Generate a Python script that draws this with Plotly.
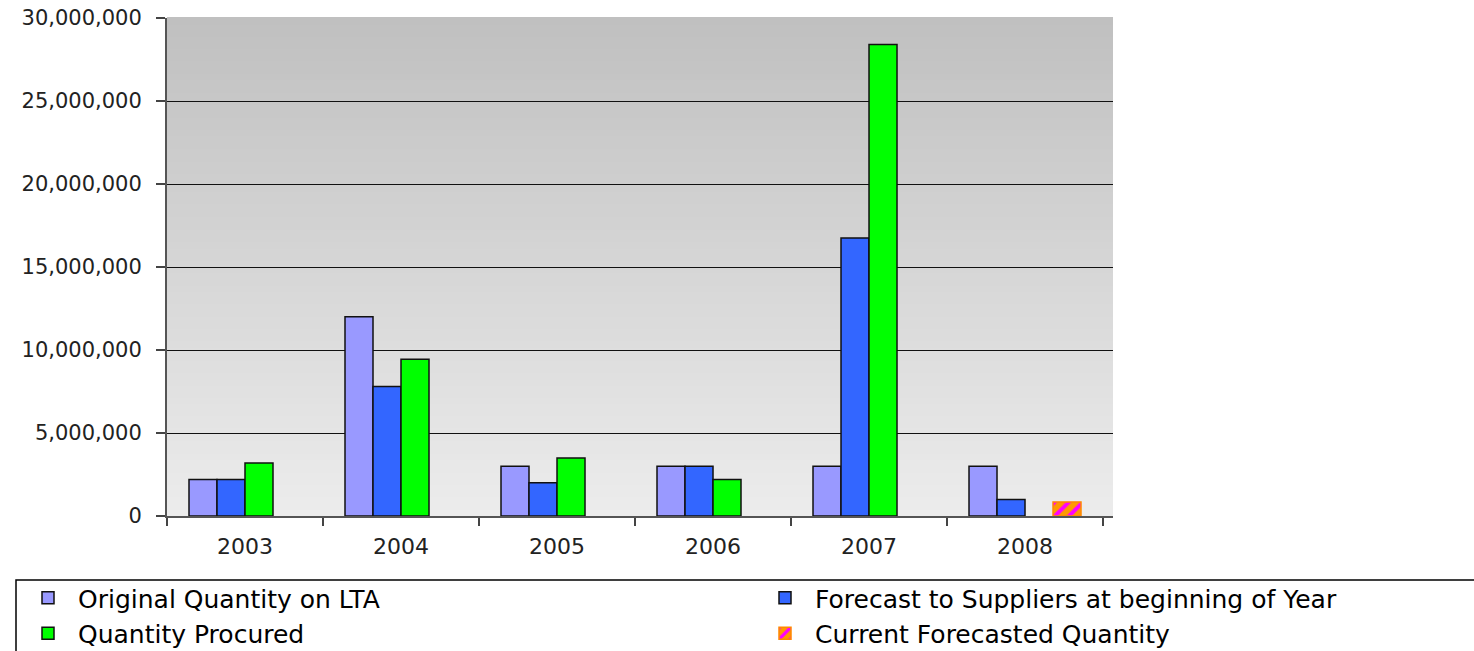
import plotly.graph_objects as go

years = ["2003", "2004", "2005", "2006", "2007", "2008"]
original_lta = [2200000, 12000000, 3000000, 3000000, 3000000, 3000000]
forecast_suppliers = [2200000, 7800000, 2000000, 3000000, 16750000, 1000000]
quantity_procured = [3200000, 9450000, 3500000, 2200000, 28400000, None]
current_forecast = [None, None, None, None, None, 850000]

W, H = 1474, 651
L, R, T, B = 167, 361, 18, 135
PW, PH = W - L - R, H - T - B


def px_x(p):
    return (p - L) / PW


def px_y(p):
    return (H - B - p) / PH


fig = go.Figure()
fig.add_bar(name="Original Quantity on LTA", x=years, y=original_lta, legend="legend",
            marker=dict(color="#9999ff", line=dict(color="#111111", width=1.5)))
fig.add_bar(name="Forecast to Suppliers at beginning of Year", x=years, y=forecast_suppliers,
            legend="legend2",
            marker=dict(color="#3366ff", line=dict(color="#111111", width=1.5)))
fig.add_bar(name="Quantity Procured", x=years, y=quantity_procured, legend="legend",
            marker=dict(color="#00ff00", line=dict(color="#111111", width=1.5)))
fig.add_bar(name="Current Forecasted Quantity", x=years, y=current_forecast, legend="legend2",
            marker=dict(color="#ff9900", line=dict(color="#ff8800", width=1.5),
                        pattern=dict(shape="/", fgcolor="#ff00ff", bgcolor="#ff9900",
                                     size=10, solidity=0.4, fillmode="replace")))

# gradient plot background
n = 80
top = (192, 192, 192)
bot = (236, 236, 236)
shapes = []
for i in range(n):
    f = i / (n - 1)
    c = tuple(round(bot[k] + (top[k] - bot[k]) * f) for k in range(3))
    shapes.append(dict(type="rect", xref="x domain", yref="y domain",
                       x0=0, x1=1, y0=i / n, y1=(i + 1) / n + 0.002,
                       fillcolor="rgb(%d,%d,%d)" % c, line=dict(width=0), layer="below"))

# legend frame
shapes.append(dict(type="rect", xref="paper", yref="paper",
                   x0=px_x(16), x1=px_x(1490), y0=px_y(670), y1=px_y(580),
                   line=dict(color="#000000", width=1.5), fillcolor="rgba(0,0,0,0)"))

font = "DejaVu Sans, Verdana, Arial, sans-serif"
leg_common = dict(orientation="v", xanchor="left", yanchor="top",
                  bgcolor="rgba(0,0,0,0)", borderwidth=0,
                  font=dict(size=25, color="#000000"), itemwidth=50,
                  traceorder="normal", tracegroupgap=0)
fig.update_layout(
    width=W, height=H,
    margin=dict(l=L, r=R, t=T, b=B, autoexpand=False),
    paper_bgcolor="white", plot_bgcolor="rgba(0,0,0,0)",
    barmode="group", bargap=0.282, bargroupgap=0,
    shapes=shapes,
    font=dict(family=font, color="#222222"),
    xaxis=dict(type="category", range=[-0.5, 5.564], tickson="boundaries",
               ticks="outside", ticklen=8, tickcolor="#444444", tickwidth=2,
               showline=True, linecolor="#555555", linewidth=2,
               showgrid=False, tickfont=dict(size=22, color="#222222"),
               ticklabelstandoff=10),
    yaxis=dict(range=[0, 30000000], tickvals=[0, 5000000, 10000000, 15000000, 20000000, 25000000, 30000000],
               tickformat=",d", ticks="outside", ticklen=9, tickcolor="#444444", tickwidth=2,
               showline=True, linecolor="#555555", linewidth=2,
               showgrid=True, gridcolor="#111111", gridwidth=1, zeroline=False,
               tickfont=dict(size=21, color="#222222"), ticklabelstandoff=10),
    legend=dict(x=px_x(18), y=px_y(575), **leg_common),
    legend2=dict(x=px_x(755), y=px_y(575), **leg_common),
    showlegend=True,
)

fig.write_html("out.html")
